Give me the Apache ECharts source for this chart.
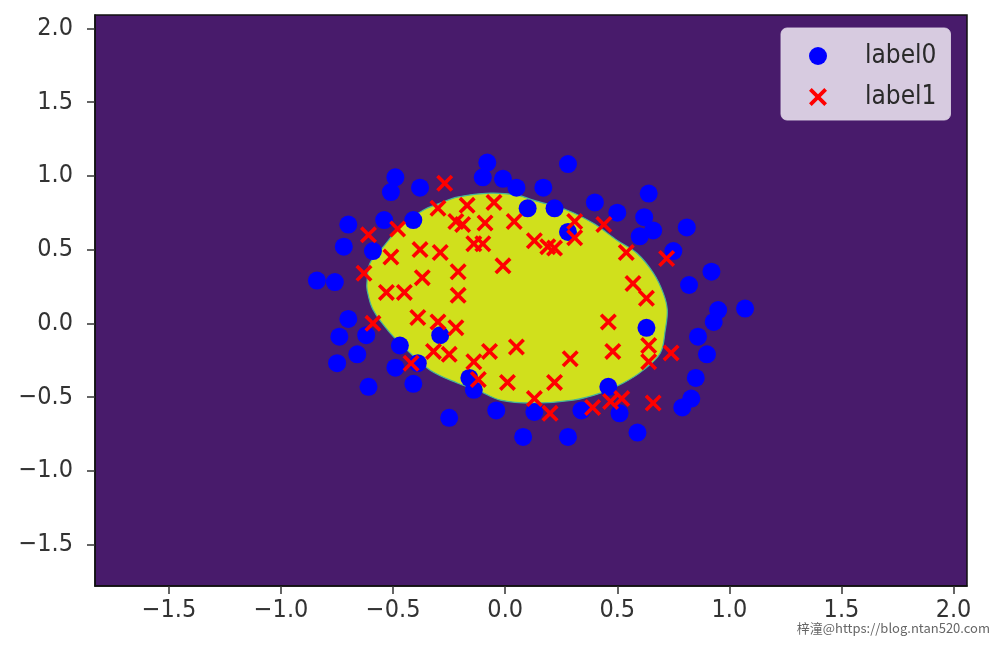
<!DOCTYPE html>
<html>
<head>
<meta charset="utf-8">
<script src="https://cdn.jsdelivr.net/npm/echarts@6/dist/echarts.min.js"></script>
<style>
html,body{margin:0;padding:0;background:#fff;}
#chart{width:1000px;height:645px;}
</style>
</head>
<body>
<div id="chart"></div>
<script>
// ---- data ----
const xTicks = [-1.5, -1.0, -0.5, 0.0, 0.5, 1.0, 1.5, 2.0];
const yTicks = [-1.5, -1.0, -0.5, 0.0, 0.5, 1.0, 1.5, 2.0];
const seriesNames = ['label0', 'label1'];

const label0Points = [
  [-0.08,1.09],[0.28,1.08],[-0.49,0.99],[-0.51,0.89],[-0.38,0.92],[-0.10,0.99],[-0.01,0.98],
  [0.05,0.92],[0.17,0.92],[0.10,0.78],[0.22,0.78],[0.40,0.82],[0.50,0.75],[0.64,0.88],
  [0.62,0.72],[0.66,0.63],[0.60,0.59],[0.81,0.65],[0.28,0.62],[0.75,0.49],[0.92,0.35],
  [0.82,0.26],[-0.70,0.67],[-0.54,0.70],[-0.41,0.70],[-0.72,0.52],[-0.59,0.49],[-0.84,0.29],
  [-0.76,0.28],[-0.70,0.03],[-0.62,-0.08],[-0.74,-0.09],[-0.29,-0.08],[-0.47,-0.15],
  [-0.66,-0.21],[-0.75,-0.27],[-0.49,-0.30],[-0.39,-0.27],[-0.41,-0.41],[-0.61,-0.43],
  [-0.16,-0.37],[-0.14,-0.45],[-0.25,-0.64],[-0.04,-0.59],[0.08,-0.77],[0.95,0.09],
  [0.93,0.01],[1.07,0.10],[0.63,-0.03],[0.86,-0.09],[0.90,-0.21],[0.85,-0.37],[0.83,-0.51],
  [0.79,-0.57],[0.46,-0.43],[0.51,-0.61],[0.34,-0.59],[0.13,-0.60],[0.28,-0.77],[0.59,-0.74]
];

const label1Points = [
  [-0.27,0.95],[-0.30,0.78],[-0.17,0.80],[-0.05,0.82],[-0.22,0.69],[-0.19,0.67],[-0.09,0.68],
  [0.04,0.69],[-0.61,0.60],[-0.48,0.64],[-0.14,0.54],[-0.10,0.54],[-0.51,0.45],[-0.38,0.50],
  [-0.29,0.48],[-0.21,0.35],[-0.01,0.39],[-0.63,0.34],[-0.37,0.31],[-0.53,0.21],[-0.45,0.21],
  [-0.21,0.19],[0.13,0.56],[0.19,0.52],[0.22,0.51],[0.31,0.69],[0.31,0.58],[0.44,0.67],
  [0.54,0.48],[0.72,0.44],[0.57,0.27],[0.63,0.17],[-0.59,0.00],[-0.39,0.04],[-0.30,0.01],
  [-0.22,-0.03],[-0.32,-0.19],[-0.25,-0.21],[-0.42,-0.27],[-0.07,-0.19],[-0.14,-0.26],
  [-0.12,-0.38],[0.01,-0.40],[0.05,-0.16],[0.46,0.01],[0.29,-0.24],[0.48,-0.19],[0.64,-0.15],
  [0.64,-0.26],[0.74,-0.20],[0.22,-0.40],[0.13,-0.51],[0.20,-0.61],[0.39,-0.57],[0.47,-0.53],
  [0.52,-0.51],[0.66,-0.54]
];

// decision boundary (yellow region outline)
const boundaryPoints = [
  [-0.616,0.294],[-0.603,0.409],[-0.545,0.517],[-0.469,0.653],[-0.366,0.767],[-0.290,0.815],
  [-0.214,0.856],[-0.067,0.883],[0.054,0.869],[0.125,0.835],[0.277,0.767],[0.393,0.678],
  [0.500,0.562],[0.589,0.474],[0.661,0.341],[0.705,0.205],[0.723,0.090],[0.714,-0.045],
  [0.692,-0.201],[0.616,-0.317],[0.527,-0.404],[0.424,-0.473],[0.304,-0.520],[0.125,-0.540],
  [-0.022,-0.520],[-0.125,-0.452],[-0.214,-0.404],[-0.335,-0.317],[-0.438,-0.181],
  [-0.513,-0.066],[-0.589,0.090],[-0.616,0.226]
];

const xRange = [-1.83, 2.06];
const yRange = [-1.78, 2.09];

// ---- chart ----
const chart = echarts.init(document.getElementById('chart'), null, {renderer: 'canvas'});
const tickFont = "'DejaVu Sans Condensed', 'DejaVu Sans', sans-serif";
const fmt = v => (v < 0 ? '\u2212' : '') + Math.abs(v).toFixed(1);
const crossPath = 'path://M0,1.5L1.5,0L5,3.5L8.5,0L10,1.5L6.5,5L10,8.5L8.5,10L5,6.5L1.5,10L0,8.5L3.5,5Z';

function axisCommon(ticks, isX) {
  return {
    type: 'value',
    min: isX ? xRange[0] : yRange[0],
    max: isX ? xRange[1] : yRange[1],
    splitLine: {show: false},
    axisLine: {show: true, onZero: false, lineStyle: {color: '#111', width: 1.5}},
    axisTick: {show: true, inside: false, length: 8, customValues: ticks, lineStyle: {color: '#333', width: 1.5}},
    axisLabel: {
      customValues: ticks,
      formatter: fmt,
      color: '#333',
      fontSize: 25,
      fontFamily: tickFont,
      margin: isX ? 12 : 22
    }
  };
}

chart.setOption({
  animation: false,
  backgroundColor: '#ffffff',
  grid: {
    left: 95, right: 33, top: 15, bottom: 59,
    outerBoundsMode: 'none',
    show: true,
    backgroundColor: '#481b6b',
    borderColor: '#111',
    borderWidth: 1.5
  },
  xAxis: axisCommon(xTicks, true),
  yAxis: axisCommon(yTicks, false),
  legend: {
    orient: 'vertical',
    left: 781,
    top: 28,
    padding: [15, 14, 10, 28],
    itemGap: 15,
    itemWidth: 18,
    itemHeight: 18,
    backgroundColor: 'rgba(235,228,240,0.88)',
    borderRadius: 6,
    borderColor: 'rgba(220,210,228,0.9)',
    borderWidth: 1,
    data: seriesNames,
    textStyle: {
      fontSize: 26,
      lineHeight: 24,
      color: '#2a2a2a',
      fontFamily: tickFont,
      padding: [0, 0, 0, 33]
    }
  },
  graphic: [{
    type: 'text',
    right: 10,
    bottom: 10,
    style: {
      text: '梓潼@https://blog.ntan520.com',
      fill: '#666',
      font: "13px 'Noto Sans CJK SC', sans-serif"
    },
    z: 100
  }],
  series: [
    {
      type: 'custom',
      name: 'boundary',
      silent: true,
      clip: true,
      z: 1,
      data: [boundaryPoints[0]],
      renderItem: function (params, api) {
        const pts = boundaryPoints.map(p => api.coord(p));
        return {
          type: 'polygon',
          shape: {points: pts, smooth: 0.35},
          style: {fill: '#d0e01c', stroke: '#45b49a', lineWidth: 1.2}
        };
      }
    },
    {
      type: 'scatter',
      name: seriesNames[0],
      z: 3,
      symbol: 'circle',
      symbolSize: 18,
      itemStyle: {color: '#0000ff', opacity: 1},
      data: label0Points
    },
    {
      type: 'scatter',
      name: seriesNames[1],
      z: 4,
      symbol: crossPath,
      symbolSize: 17,
      symbolKeepAspect: true,
      itemStyle: {color: '#ff0000', opacity: 1},
      data: label1Points
    }
  ]
});
</script>
</body>
</html>
